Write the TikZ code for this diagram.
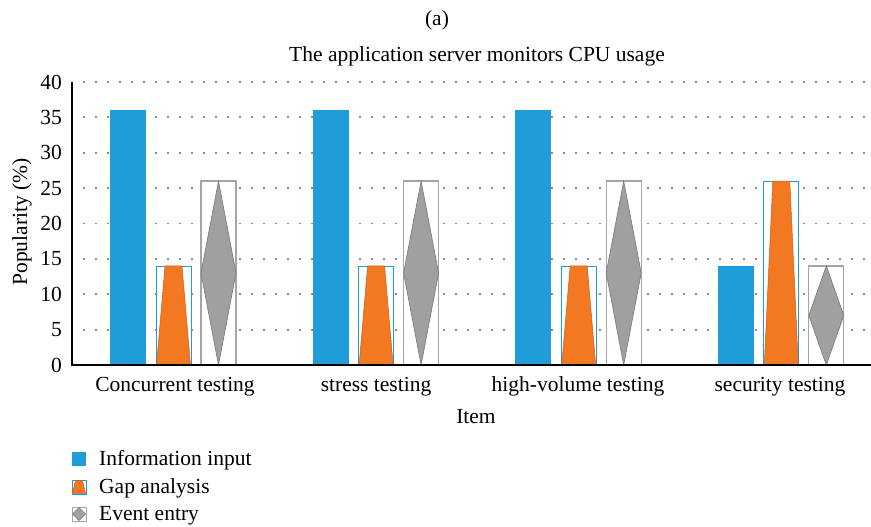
\documentclass[tikz,border=0pt]{standalone}
\usepackage{fontspec}
\setmainfont{Liberation Serif}
\definecolor{barblue}{RGB}{32,156,216}
\definecolor{barorange}{RGB}{242,120,34}
\definecolor{orangeedge}{RGB}{200,95,30}
\definecolor{diagray}{RGB}{160,160,160}
\definecolor{diaedge}{RGB}{120,120,120}
\definecolor{boxgray}{RGB}{165,165,165}
\definecolor{gridgray}{RGB}{140,140,140}
\begin{document}
\begin{tikzpicture}[x=1pt,y=-1pt,
  lbl/.style={font=\fontsize{21.5}{26}\selectfont, inner sep=0pt},
  bluebar/.style={fill=barblue, draw=none},
  orangebox/.style={draw=barblue, line width=0.9pt, fill=white},
  orangetrap/.style={fill=barorange, draw=orangeedge, line width=0.5pt},
  graybox/.style={draw=boxgray, line width=1.2pt, fill=white},
  graydia/.style={fill=diagray, draw=diaedge, line width=0.6pt},
  gridline/.style={draw=gridgray, line width=1.8pt, dash pattern=on 1.8pt off 10.2pt},
  axisline/.style={draw=black, line width=1.4pt}]
\useasboundingbox (0,0) rectangle (871,527);

% titles
\node[lbl] (sub) at (437,20) {(a)};
\node[lbl, anchor=base] (title) at (477,62) {The application server monitors CPU usage};

% data region: value 0 at y=365, 1 unit = 7.075pt upward
\begin{scope}[shift={(0pt,-365pt)}, x=1pt, y=7.075pt]
  % dotted gridlines and tick labels
  \foreach \v in {5,10,...,40} {
    \draw[gridline] (83.4,\v) -- (868,\v);
  }
  \foreach \v in {0,5,...,40} {
    \node[lbl, anchor=east] (tick\v) at (62,\v) {\v};
  }
  % bars: blue / orange trapezoid in box / grey diamond in box
  \foreach \i/\a/\b/\c in {0/36/14/26, 1/36/14/26, 2/36/14/26, 3/14/26/14} {
    \pgfmathsetmacro{\L}{110+202.6*\i}
    \fill[bluebar] (\L,0) rectangle ++(36,\a);
    \draw[orangebox] (\L+46,0) rectangle (\L+81,\b);
    \filldraw[orangetrap] (\L+46.5,0.05) -- (\L+55,\b) -- (\L+72,\b) -- (\L+80.5,0.05) -- cycle;
    \draw[graybox] (\L+91,0) rectangle (\L+126,\c);
    \filldraw[graydia] (\L+108.5,0) -- (\L+91,\c/2) -- (\L+108.5,\c) -- (\L+126,\c/2) -- cycle;
  }
  % axes
  \draw[axisline] (72,40) -- (72,0) -- (871,0);
\end{scope}

% category labels
\node[lbl, anchor=base] (c1) at (175,391) {Concurrent testing};
\node[lbl, anchor=base] (c2) at (376,391) {stress testing};
\node[lbl, anchor=base] (c3) at (578,391) {high-volume testing};
\node[lbl, anchor=base] (c4) at (780,391) {security testing};

% axis titles
\node[lbl, anchor=base] (xlab) at (476,423) {Item};
\node[lbl, rotate=90] (ylab) at (22,222) {Popularity (\%)};

% legend
\fill[bluebar] (72,452) rectangle (86,466);
\node[lbl, anchor=base west] (leg1) at (99,465) {Information input};
\draw[draw=barblue, line width=0.9pt, fill=white] (72,480) rectangle (86,494);
\filldraw[orangetrap] (72.5,493.5) -- (75.5,480.5) -- (82.5,480.5) -- (85.5,493.5) -- cycle;
\node[lbl, anchor=base west] (leg2) at (99,493) {Gap analysis};
\draw[graybox, line width=1pt] (72,507) rectangle (86,521);
\filldraw[graydia] (79,507.5) -- (85.5,514) -- (79,520.5) -- (72.5,514) -- cycle;
\node[lbl, anchor=base west] (leg3) at (99,520) {Event entry};
\end{tikzpicture}
\end{document}
